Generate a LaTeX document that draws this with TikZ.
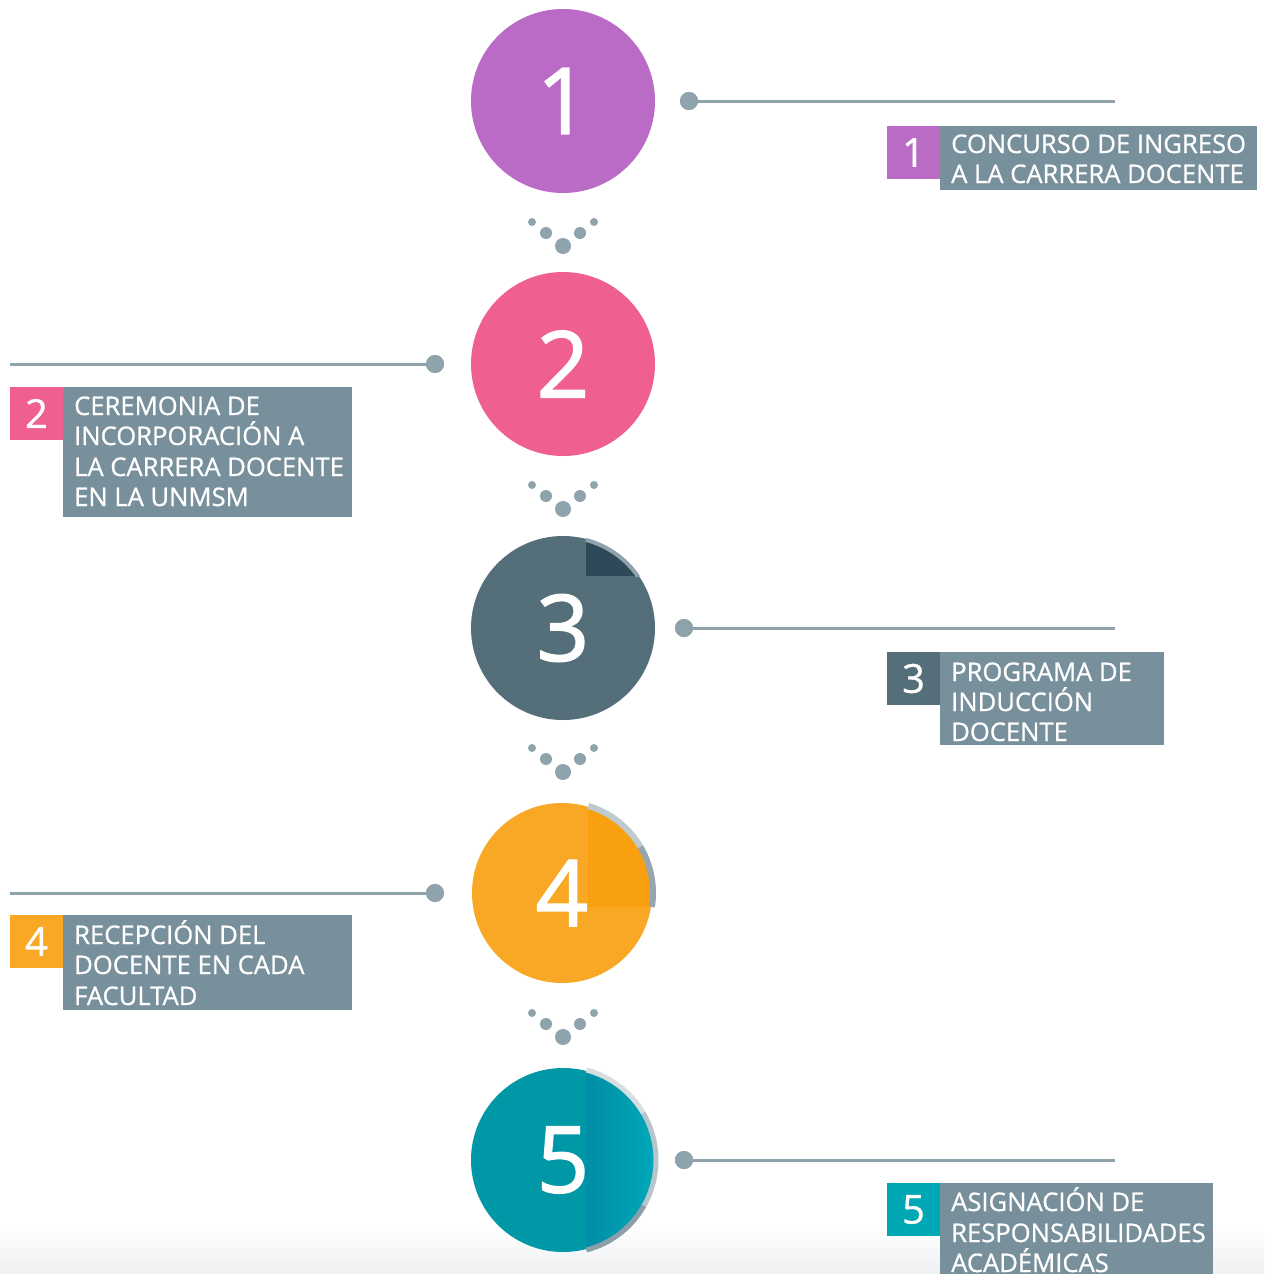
\documentclass[tikz,border=0pt]{standalone}
\usepackage{fontspec}
\setmainfont{Open Sans}
\newfontfamily\sbfont{Open Sans}[FakeBold=0.8]
\newfontfamily\bigfont{Open Sans}[FakeBold=1.6]
\definecolor{cpurple}{HTML}{B96BC6}
\definecolor{cpink}{HTML}{EF6090}
\definecolor{cslate}{HTML}{546E7A}
\definecolor{corange}{HTML}{F9A826}
\definecolor{cteal}{HTML}{0097A7}
\definecolor{boxgrey}{HTML}{78909C}
\definecolor{linegrey}{HTML}{8FA3AD}
\definecolor{darkwedge}{HTML}{2E4A59}
\begin{document}
\begin{tikzpicture}[x=1pt,y=1pt,
  bigcirc/.style={circle,minimum size=184pt,inner sep=0pt,text=white,font=\bigfont\fontsize{92}{92}\selectfont},
  bignum/.style={text=white,font=\bigfont\fontsize{92}{92}\selectfont,inner sep=0pt},
  dotS/.style={circle,fill=linegrey,minimum size=8pt,inner sep=0pt},
  dotM/.style={circle,fill=linegrey,minimum size=12pt,inner sep=0pt},
  dotL/.style={circle,fill=linegrey,minimum size=16pt,inner sep=0pt},
  enddot/.style={circle,fill=linegrey,minimum size=18pt,inner sep=0pt},
  conn/.style={draw=linegrey,line width=3pt},
  numsq/.style={text=white,font=\sbfont\fontsize{40}{40}\selectfont},
  lbl/.style={anchor=base west,inner sep=0pt,text=white,font=\sbfont\fontsize{25.6}{30}\selectfont}
]
\useasboundingbox (0,0) rectangle (1264,-1274);
\fill[white] (0,0) rectangle (1264,-1274);
\shade[top color=white,bottom color={rgb,255:red,238;green,240;blue,242}] (0,-1225) rectangle (1264,-1274);

% ---------- circles ----------
\node[bigcirc,fill=cpurple] (c1) at (563,-101) {1};
\node[bigcirc,fill=cpink] (c2) at (563,-364) {2};
\node[bigcirc,fill=cslate] (c3) at (563,-628) {};
\node[bigcirc,fill=corange,minimum size=180pt] (c4) at (562,-893) {};
\node[bigcirc,fill=cteal] (c5) at (563,-1160) {};

% circle 3 decoration
\begin{scope}
  \clip (563,-628) circle (92);
  \fill[darkwedge] (586,-530) rectangle (660,-576);
\end{scope}
\draw[linegrey,line width=4pt] ([shift={(75.5:91)}]563,-628) arc (75.5:34.4:91);
% circle 4 decoration
\begin{scope}
  \clip (562,-893) circle (90);
  \fill[color={rgb,255:red,249;green,160;blue,16}] (588,-800) rectangle (660,-907);
\end{scope}
\draw[color={rgb,255:red,190;green,202;blue,208},line width=6pt] ([shift={(73.2:91)}]562,-893) arc (73.2:30:91);
\draw[color={rgb,255:red,150;green,166;blue,176},line width=6pt] ([shift={(30.5:91)}]562,-893) arc (30.5:-8.9:91);
% circle 5 decoration
\begin{scope}
  \clip (563,-1160) circle (92);
  \shade[left color={rgb,255:red,0;green,142;blue,166},right color={rgb,255:red,0;green,170;blue,186}] (586,-1060) rectangle (660,-1260);
\end{scope}
\draw[color={rgb,255:red,215;green,222;blue,226},line width=5pt] ([shift={(75.5:93)}]563,-1160) arc (75.5:30:93);
\draw[color={rgb,255:red,185;green,197;blue,204},line width=5pt] ([shift={(30.5:93)}]563,-1160) arc (30.5:-30:93);
\draw[color={rgb,255:red,140;green,158;blue,168},line width=5pt] ([shift={(-29.5:93)}]563,-1160) arc (-29.5:-75.5:93);

\node[bignum] (n3) at (c3) {3};
\node[bignum] (n4) at (c4) {4};
\node[bignum] (n5) at (c5) {5};

% ---------- dots between circles ----------
\foreach \i/\y in {a/222,b/485,c/748,d/1013}{
  \node[dotS] (s1\i) at (532,-\y) {};
  \node[dotS] (s2\i) at (594,-\y) {};
  \node[dotM] (m1\i) at (546,-\y-11) {};
  \node[dotM] (m2\i) at (580,-\y-11) {};
  \node[dotL] (l\i) at (563,-\y-24) {};
}

% ---------- connectors ----------
\node[enddot] (d1) at (689,-101) {};
\coordinate (e1) at (1115,-101);
\draw[conn] (d1.center) -- (e1);
\node[enddot] (d2) at (435,-364) {};
\coordinate (e2) at (10,-364);
\draw[conn] (d2.center) -- (e2);
\node[enddot] (d3) at (684,-628) {};
\coordinate (e3) at (1115,-628);
\draw[conn] (d3.center) -- (e3);
\node[enddot] (d4) at (435,-893) {};
\coordinate (e4) at (10,-893);
\draw[conn] (d4.center) -- (e4);
\node[enddot] (d5) at (684,-1160) {};
\coordinate (e5) at (1115,-1160);
\draw[conn] (d5.center) -- (e5);
\node[enddot] at (d1) {};
\node[enddot] at (d2) {};
\node[enddot] at (d3) {};
\node[enddot] at (d4) {};
\node[enddot] at (d5) {};

% ---------- labels ----------
% 1
\fill[boxgrey] (940,-126) rectangle (1257,-190);
\fill[cpurple] (887,-126) rectangle (940,-179);
\node[numsq] (q1) at (913.5,-152.5) {1};
\node[lbl] (t1a) at (951,-153) {CONCURSO DE INGRESO};
\node[lbl] (t1b) at (951,-183) {A LA CARRERA DOCENTE};
% 2
\fill[boxgrey] (63,-387) rectangle (352,-517);
\fill[cpink] (10,-387) rectangle (63,-440);
\node[numsq] (q2) at (36.5,-413.5) {2};
\node[lbl] (t2a) at (74,-415) {CEREMONIA DE};
\node[lbl] (t2b) at (74,-445) {INCORPORACIÓN A};
\node[lbl] (t2c) at (74,-476) {LA CARRERA DOCENTE};
\node[lbl] (t2d) at (74,-506) {EN LA UNMSM};
% 3
\fill[boxgrey] (940,-652) rectangle (1164,-745);
\fill[cslate] (887,-652) rectangle (940,-705);
\node[numsq] (q3) at (913.5,-678.5) {3};
\node[lbl] (t3a) at (951,-681) {PROGRAMA DE};
\node[lbl] (t3b) at (951,-711) {INDUCCIÓN};
\node[lbl] (t3c) at (951,-741) {DOCENTE};
% 4
\fill[boxgrey] (63,-915) rectangle (352,-1010);
\fill[corange] (10,-915) rectangle (63,-968);
\node[numsq] (q4) at (36.5,-941.5) {4};
\node[lbl] (t4a) at (74,-944) {RECEPCIÓN DEL};
\node[lbl] (t4b) at (74,-974) {DOCENTE EN CADA};
\node[lbl] (t4c) at (74,-1005) {FACULTAD};
% 5
\fill[boxgrey] (940,-1183) rectangle (1213,-1274);
\fill[cteal!85!cyan] (887,-1183) rectangle (940,-1236);
\node[numsq] (q5) at (913.5,-1209.5) {5};
\node[lbl] (t5a) at (951,-1211) {ASIGNACIÓN DE};
\node[lbl] (t5b) at (951,-1242) {RESPONSABILIDADES};
\node[lbl] (t5c) at (951,-1272) {ACADÉMICAS};
\end{tikzpicture}
\end{document}
